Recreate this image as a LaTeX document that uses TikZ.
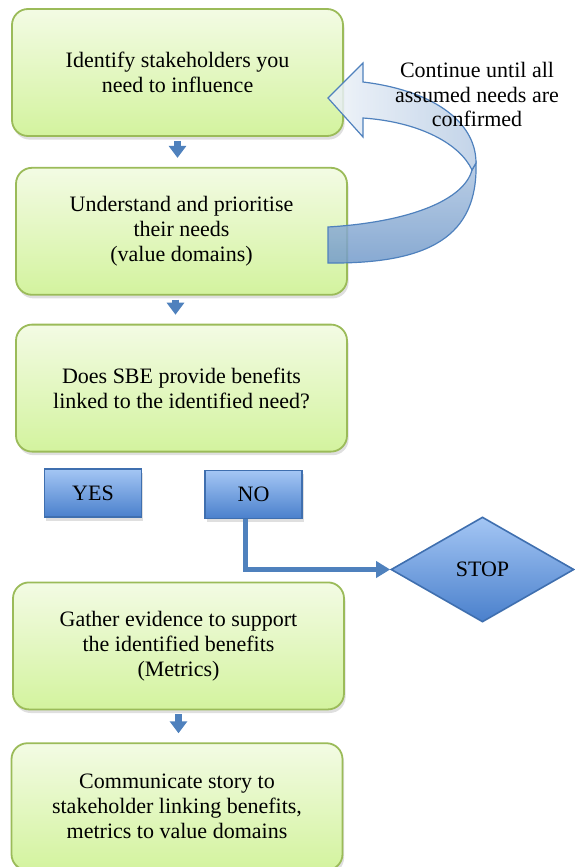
\documentclass[tikz,border=0pt]{standalone}
\usepackage{fontspec}
\setmainfont{Liberation Serif}
\usepackage{tikz}
\usetikzlibrary{arrows.meta}
\usetikzlibrary{positioning}
\usetikzlibrary{shapes.geometric}
\usetikzlibrary{shadows}

\definecolor{stageborder}{HTML}{9BBB59}
\definecolor{stagetop}{HTML}{F3FBE4}
\definecolor{stagebottom}{HTML}{D3F39E}
\definecolor{answerborder}{HTML}{3F6FAF}
\definecolor{answertop}{HTML}{A4C6F4}
\definecolor{answerbottom}{HTML}{4A80CC}
\definecolor{flowblue}{HTML}{4F81BD}

\begin{document}
\begin{tikzpicture}

\tikzstyle{stage}=[draw=stageborder, line width=0.9pt, rounded corners=8pt, top color=stagetop, bottom color=stagebottom, minimum width=165.5pt, minimum height=63.5pt, align=center, font=\fontsize{11}{12.5}\selectfont, drop shadow={opacity=0.25, shadow xshift=0.8pt, shadow yshift=-1.8pt}]
\tikzstyle{answer}=[draw=answerborder, line width=0.8pt, top color=answertop, bottom color=answerbottom, minimum width=48.5pt, minimum height=24pt, font=\fontsize{11}{12.5}\selectfont, drop shadow={opacity=0.25, shadow xshift=0.8pt, shadow yshift=-1.8pt}]
\tikzstyle{decision}=[draw=answerborder, line width=0.8pt, diamond, top color=answertop, bottom color=answerbottom, minimum width=91.5pt, minimum height=52.5pt, inner sep=0pt, font=\fontsize{11}{12.5}\selectfont]
\tikzstyle{flow}=[draw=flowblue, line width=3.5pt, -{Triangle[width=8.5pt,length=6pt]}, shorten <=2pt, shorten >=4.5pt]
\tikzstyle{line}=[draw=flowblue, line width=2.6pt, -{Triangle[width=8pt,length=7pt]}]
\tikzstyle{loop}=[draw=flowblue, line width=0.6pt, fill opacity=0.85]

\useasboundingbox (0,0) rectangle (287pt,-433.5pt);

\node[stage] (identify) at (88.75pt,-36.25pt) {Identify stakeholders you\\need to influence};
\node[stage, below=15pt of identify, xshift=2pt] (understand) {Understand and prioritise\\their needs\\(value domains)};
\node[stage, below=14pt of understand] (benefits) {Does SBE provide benefits\\linked to the identified need?};

\node[answer] (yes) at (46.5pt,-246.5pt) {YES};
\node[answer, right=31pt of yes, yshift=-0.8pt] (no) {NO};
\node[decision] (stop) at (241.25pt,-284.75pt) {STOP};

\node[stage, below=64.5pt of benefits, xshift=-1.5pt] (evidence) {Gather evidence to support\\the identified benefits\\(Metrics)};
\node[stage, below=16pt of evidence, xshift=-0.75pt] (communicate) {Communicate story to\\stakeholder linking benefits,\\metrics to value domains};

\path[flow] (identify.south) -- (identify.south |- understand.north);
\path[flow] ([xshift=-3pt]understand.south) -- ([xshift=-3pt]understand.south |- benefits.north);
\path[flow] (evidence.south) -- (evidence.south |- communicate.north);

\path[line] ([xshift=-4pt]no.south) |- (stop);

% loop back arrow
\path[loop, top color=flowblue!45, bottom color=flowblue!80] (238pt,-81.5pt) .. controls (239pt,-118pt) and (215pt,-132pt) .. (164pt,-131.5pt) -- (164pt,-113.5pt) .. controls (205pt,-111pt) and (232pt,-100pt) .. (236pt,-85pt) -- cycle;
\path[loop, left color=flowblue!10, right color=flowblue!40] (164pt,-49pt) -- (181.5pt,-31.5pt) -- (181.5pt,-41pt) .. controls (215pt,-45pt) and (238pt,-60pt) .. (238pt,-81.5pt) -- (236pt,-85pt) .. controls (230pt,-72pt) and (210pt,-61pt) .. (181.5pt,-59pt) -- (181.5pt,-68.5pt) -- cycle;

\node[align=center, font=\fontsize{11}{12.2}\selectfont] (loop_label) at (238.5pt,-47.25pt) {Continue until all\\assumed needs are\\confirmed};

\end{tikzpicture}
\end{document}
